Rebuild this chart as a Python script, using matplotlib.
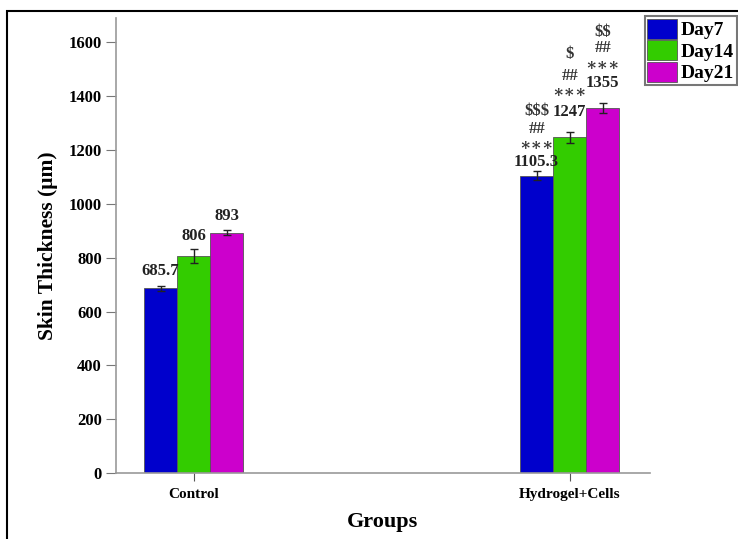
"""Skin thickness per group over the healing period."""

import matplotlib
import numpy as np

matplotlib.use("Agg")
import matplotlib.pyplot as plt
from matplotlib.patches import Rectangle

GROUPS = ["Control", "Hydrogel+Cells"]
DAYS = ["Day7", "Day14", "Day21"]
COLORS = ["#0000cc", "#33cc00", "#cc00cc"]

thickness = {
    "Day7": [685.7, 1105.3],
    "Day14": [806, 1247],
    "Day21": [893, 1355],
}
errors = {
    "Day7": [8, 15],
    "Day14": [25, 20],
    "Day21": [8, 18],
}
# significance marks for the treated group, bottom to top
marks = {
    "Day7": ["∗∗∗", "##", "$$$"],
    "Day14": ["∗∗∗", "##", "$"],
    "Day21": ["∗∗∗", "##", "$$"],
}

# how far each value label sits above its bar (per group), and the mark spacing
label_gap = {
    "Day7": [65, 52],
    "Day14": [75, 93],
    "Day21": [60, 93],
}
mark_gaps = {
    "Day7": [62, 58, 68],
    "Day14": [75, 60, 82],
    "Day21": [66, 64, 62],
}

plt.rcParams["font.family"] = ["Liberation Serif", "DejaVu Serif"]
plt.rcParams["font.weight"] = "bold"

fig = plt.figure(figsize=(7.38, 5.39), dpi=100)
ax = fig.add_axes([0.157, 0.1224, 0.7236, 0.844])

x = np.arange(len(GROUPS))
width = 0.088
for i, (day, color) in enumerate(zip(DAYS, COLORS)):
    pos = x + (i - 1) * width
    ax.bar(pos, thickness[day], width, color=color, edgecolor="#555555",
           linewidth=0.6, label=day, zorder=2)
    ax.errorbar(pos, thickness[day], yerr=errors[day], fmt="none",
                ecolor="#222222", elinewidth=1, capsize=3, capthick=1, zorder=3)
    for j, (p, v) in enumerate(zip(pos, thickness[day])):
        y = v + label_gap[day][j]
        ax.text(p, y, f"{v:g}", ha="center", va="center", fontsize=12,
                fontweight="bold", color="#222222")
        if j == 1:
            for m, gap in zip(marks[day], mark_gaps[day]):
                y += gap
                ax.text(p, y, m, ha="center", va="center", fontsize=12,
                        fontweight="bold", color="#333333", parse_math=False)

ax.set_xlim(-0.207, 1.213)
ax.set_ylim(0, 1690)
ax.set_yticks(range(0, 1601, 200))
ax.set_xticks(x)
ax.set_xticklabels(GROUPS, fontsize=11, fontweight="bold")
ax.tick_params(axis="y", labelsize=12, length=7, color="#777777", direction="out", pad=3)
ax.tick_params(axis="x", length=6, color="#555555", direction="out", pad=5)
for lbl in ax.get_yticklabels():
    lbl.set_fontweight("bold")

for side in ["top", "right"]:
    ax.spines[side].set_visible(False)
for side in ["left", "bottom"]:
    ax.spines[side].set_color("#999999")
    ax.spines[side].set_linewidth(1.2)

ax.set_ylabel("Skin Thickness (μm)", fontsize=15.5, fontweight="bold", labelpad=8)
ax.set_xlabel("Groups", fontsize=16, fontweight="bold", labelpad=8)

leg = ax.legend(loc="upper left", bbox_to_anchor=(0.99, 1.005), fontsize=14,
                frameon=True, fancybox=False, handlelength=1.5, handleheight=1.2,
                handletextpad=0.2, borderpad=0.15, labelspacing=0.05,
                borderaxespad=0)
leg.get_frame().set_edgecolor("#555555")
leg.get_frame().set_linewidth(1.5)
for t in leg.get_texts():
    t.set_fontweight("bold")

# page frame around the figure
fig.patches.append(Rectangle((0.01, -0.1), 1.2, 1.08, transform=fig.transFigure,
                             fill=False, edgecolor="black", linewidth=1.5))

plt.savefig("out.png", dpi=100)
plt.close()
